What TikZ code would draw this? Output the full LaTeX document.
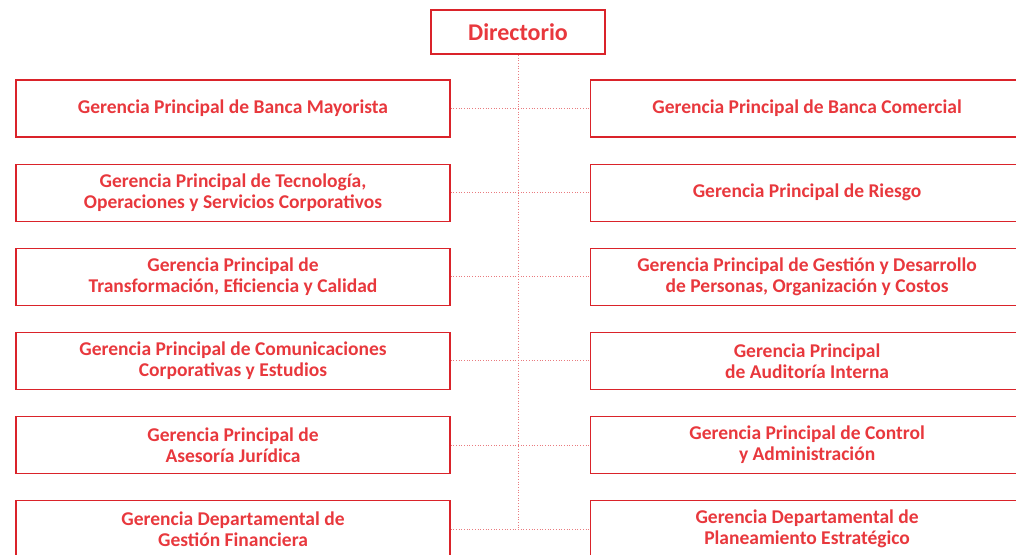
\documentclass[tikz,border=0pt]{standalone}
\usepackage{fontspec}
\setmainfont{Carlito}
\usetikzlibrary{positioning}
\definecolor{bcpRed}{RGB}{218,35,42}
\definecolor{bcpText}{RGB}{232,56,61}
\tikzstyle{gerNode} = [rectangle, minimum width=434pt, minimum height=57pt, text centered, align=center, draw=bcpRed, line width=1.1pt, text=bcpText, font=\fontsize{19.5}{21}\selectfont\bfseries, inner sep=0pt]
\tikzstyle{dirNode} = [rectangle, minimum width=174pt, minimum height=44pt, text centered, draw=bcpRed, line width=1.8pt, text=bcpText, font=\fontsize{24}{26}\selectfont\bfseries]
\tikzstyle{conn} = [dotted, line width=0.7pt, draw=bcpRed!60]

\begin{document}
\begin{tikzpicture}[x=1pt, y=1pt]
        \useasboundingbox (0,0) rectangle (1016,-554);
        \clip (0,0) rectangle (1016,-554);
        \node (dir) [dirNode] at (518,-32) {Directorio};
        \node (l1) [gerNode] at (233,-108.5) {Gerencia Principal de Banca Mayorista};
        \node (l2) [gerNode, below=26pt of l1] {Gerencia Principal de Tecnología,\\Operaciones y Servicios Corporativos};
        \node (l3) [gerNode, below=26pt of l2] {Gerencia Principal de\\Transformación, Eficiencia y Calidad};
        \node (l4) [gerNode, below=26pt of l3] {Gerencia Principal de Comunicaciones\\Corporativas y Estudios};
        \node (l5) [gerNode, below=26pt of l4] {Gerencia Principal de\\Asesoría Jurídica};
        \node (l6) [gerNode, below=26pt of l5] {Gerencia Departamental de\\Gestión Financiera};
        \node (r1) [gerNode, right=139pt of l1] {Gerencia Principal de Banca Comercial};
        \node (r2) [gerNode, right=139pt of l2] {Gerencia Principal de Riesgo};
        \node (r3) [gerNode, right=139pt of l3] {Gerencia Principal de Gestión y Desarrollo\\de Personas, Organización y Costos};
        \node (r4) [gerNode, right=139pt of l4] {Gerencia Principal\\de Auditoría Interna};
        \node (r5) [gerNode, right=139pt of l5] {Gerencia Principal de Control\\y Administración};
        \node (r6) [gerNode, right=139pt of l6] {Gerencia Departamental de\\Planeamiento Estratégico};

        \draw [conn] (dir) -- (dir |- l6);
        \foreach \i in {1,...,6}
            \draw [conn] (l\i) -- (r\i);
    \end{tikzpicture}
\end{document}
